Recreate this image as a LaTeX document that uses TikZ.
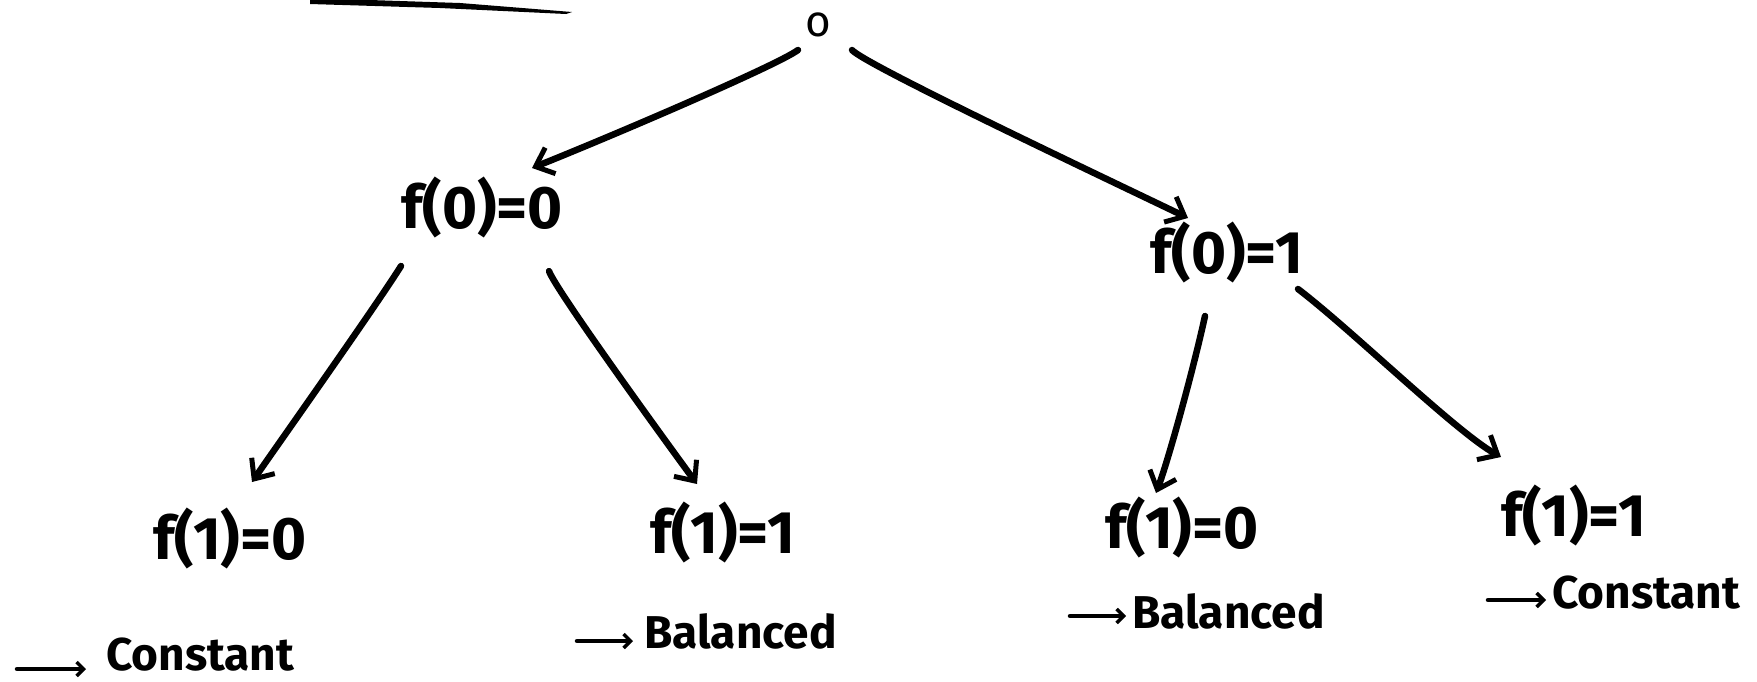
\documentclass[tikz,border=0pt]{standalone}
\usepackage{fontspec}
\setmainfont{Fira Sans}
\usetikzlibrary{arrows.meta,calc}
\begin{document}
\begin{tikzpicture}[x=1pt,y=-1pt,
  lbl/.style={font=\fontsize{60}{60}\selectfont\bfseries, inner sep=0pt},
  res/.style={font=\fontsize{46}{46}\selectfont\bfseries, inner sep=0pt, anchor=base west},
  edge/.style={line width=6.5pt, line cap=round, line join=round, -{Straight Barb[length=16pt,width=28pt,line width=5pt]}},
  small/.style={line width=4.5pt, line cap=round, -{Straight Barb[length=7pt,width=14pt,line width=3.5pt]}}]
\useasboundingbox (0,0) rectangle (1757,681);
% top-left tapered stroke
\fill (310,-2) -- (460,3) -- (572,12) -- (566,14) -- (440,8) -- (310,4) -- cycle;
% nodes
\node[lbl] (r) at (818,25) {\fontsize{44}{44}\selectfont\mdseries o};
\node[lbl] (a) at (482,207) {f(0)=0};
\node[lbl] (b) at (1227,252) {f(0)=1};
\node[lbl] (c) at (230,538) {f(1)=0};
\node[lbl] (d) at (723,532) {f(1)=1};
\node[lbl] (e) at (1182,527) {f(1)=0};
\node[lbl] (f) at (1574,515) {f(1)=1};
% results
\node[res] (rc) at (106,670) {Constant};
\node[res] (rd) at (644,648) {Balanced};
\node[res] (re) at (1132,628) {Balanced};
\node[res] (rf) at (1552,608) {Constant};
\coordinate (ac) at (17,669);
\coordinate (ad) at (577,641);
\coordinate (ae) at (1070,616);
\coordinate (af) at (1488,600);
% edges
\draw[edge] ($(r)+(-20,25)$) .. controls +(-20,15) and +(80,-32) .. ($(a)+(50,-39)$);
\draw[edge] ($(r)+(34,25)$) .. controls +(12,14) and +(-100,-48) .. ($(b)+(-39,-34)$);
\draw[edge] ($(a)+(-81,59)$) .. controls +(-25,40) and +(22,-32) .. ($(c)+(22,-56)$);
\draw[edge] ($(a)+(67,64)$) .. controls +(6,18) and +(-28,-38) .. ($(d)+(-26,-48)$);
\draw[edge] ($(b)+(-22,64)$) .. controls +(-12,55) and +(12,-32) .. ($(e)+(-26,-34)$);
\draw[edge] ($(b)+(71,37)$) .. controls +(55,42) and +(-45,-25) .. ($(f)+(-73,-58)$);
% small arrows
\draw[small] (ac) -- ($(rc.base west)+(-20,-1)$);
\draw[small] (ad) -- ($(rd.base west)+(-11,-7)$);
\draw[small] (ae) -- ($(re.base west)+(-6,-12)$);
\draw[small] (af) -- ($(rf.base west)+(-6,-8)$);
\end{tikzpicture}
\end{document}
